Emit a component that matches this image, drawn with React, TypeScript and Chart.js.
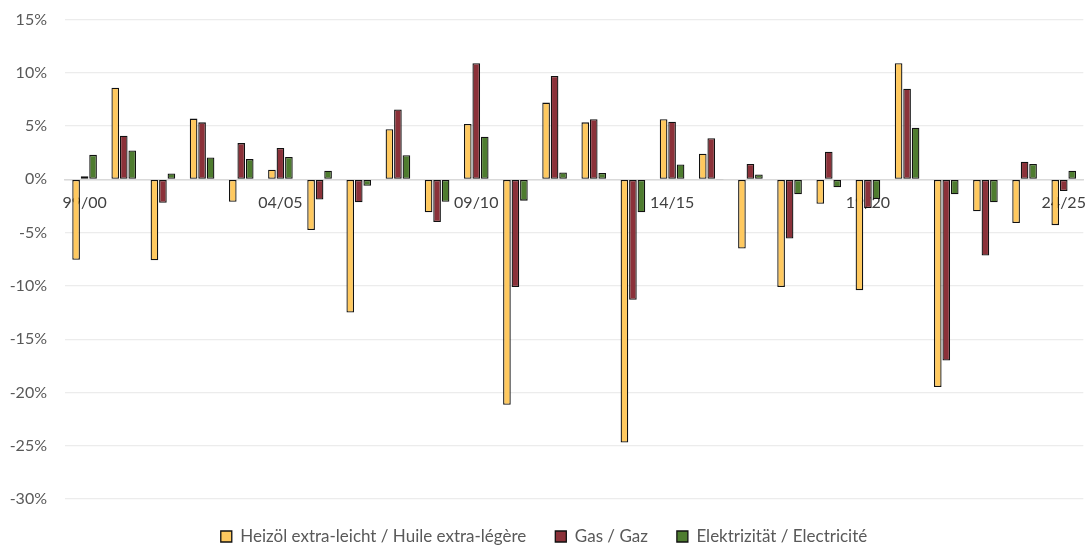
import React, { useEffect, useRef } from "react";
import { Chart, registerables } from "chart.js";

Chart.register(...registerables);

const categories = [
  "99/00", "00/01", "01/02", "02/03", "03/04", "04/05", "05/06", "06/07", "07/08", "08/09",
  "09/10", "10/11", "11/12", "12/13", "13/14", "14/15", "15/16", "16/17", "17/18", "18/19",
  "19/20", "20/21", "21/22", "22/23", "23/24", "24/25",
];

const heizoel = [
  -7.55, 8.6, -7.6, 5.7, -2.1, 0.9, -4.75, -12.5, 4.7, -3.1,
  5.2, -21.15, 7.2, 5.35, -24.7, 5.65, 2.4, -6.5, -10.1, -2.3,
  -10.4, 10.9, -19.5, -3.0, -4.1, -4.3,
];

const gas = [
  0.3, 4.1, -2.2, 5.35, 3.4, 2.95, -1.9, -2.15, 6.55, -4.0,
  10.9, -10.1, 9.7, 5.65, -11.3, 5.4, 3.85, 1.45, -5.55, 2.6,
  -2.7, 8.5, -17.0, -7.15, 1.65, -1.1,
];

const elektrizitaet = [
  2.3, 2.7, 0.55, 2.05, 1.9, 2.1, 0.8, -0.6, 2.27, -2.1,
  4.0, -2.0, 0.65, 0.6, -3.1, 1.4, -0.05, 0.45, -1.4, -0.75,
  -1.85, 4.85, -1.4, -2.15, 1.45, 0.8,
];

const seriesLabels = [
  "Heizöl extra-leicht / Huile extra-légère",
  "Gas / Gaz",
  "Elektrizität / Electricité",
];

const seriesColors = ["#FFC95F", "#8B3139", "#4E7C2F"];

export default function App() {
  const canvasRef = useRef<HTMLCanvasElement | null>(null);

  useEffect(() => {
    document.body.style.margin = "0";
    const canvas = canvasRef.current;
    if (!canvas) return;
    const font = "Lato, 'Open Sans', sans-serif";
    const chart = new Chart(canvas, {
      type: "bar",
      data: {
        labels: categories,
        datasets: [heizoel, gas, elektrizitaet].map((d, i) => ({
          label: seriesLabels[i],
          data: d,
          backgroundColor: seriesColors[i],
          borderColor: "#111111",
          borderWidth: 1.3,
          borderSkipped: false,
          categoryPercentage: 0.65,
          barPercentage: 0.9,
        })),
      },
      options: {
        animation: false,
        responsive: true,
        maintainAspectRatio: false,
        layout: { padding: { top: 19.5, right: 4, left: 0, bottom: 0 } },
        plugins: {
          tooltip: { enabled: false },
          legend: {
            position: "bottom",
            maxHeight: 49,
            labels: {
              boxWidth: 11,
              boxHeight: 11,
              font: { family: font, size: 17 },
              color: "#595959",
              padding: 29,
            },
          },
        },
        scales: {
          x: {
            position: { y: 0 } as any,
            grid: { display: false },
            border: { display: true, color: "#d9d9d9", width: 1.5 },
            ticks: {
              autoSkip: false,
              maxRotation: 0,
              padding: 6,
              color: "#404040",
              font: { family: font, size: 16 },
              callback: (_v: any, i: number) => (i % 5 === 0 ? categories[i] : ""),
            },
          },
          y: {
            min: -30,
            max: 15,
            afterFit: (s: any) => {
              s.width = 65;
            },
            grid: { color: "#ececec", lineWidth: 1.2, drawTicks: true, tickLength: 18, tickColor: "rgba(0,0,0,0)" },
            border: { display: false },
            ticks: {
              stepSize: 5,
              padding: 0,
              color: "#595959",
              font: { family: font, size: 16 },
              callback: (v: any) => `${v}%`,
            },
          },
        },
      },
    });
    return () => chart.destroy();
  }, []);

  return (
    <div style={{ width: 1092, height: 548, position: "relative" }}>
      <canvas ref={canvasRef} />
    </div>
  );
}
